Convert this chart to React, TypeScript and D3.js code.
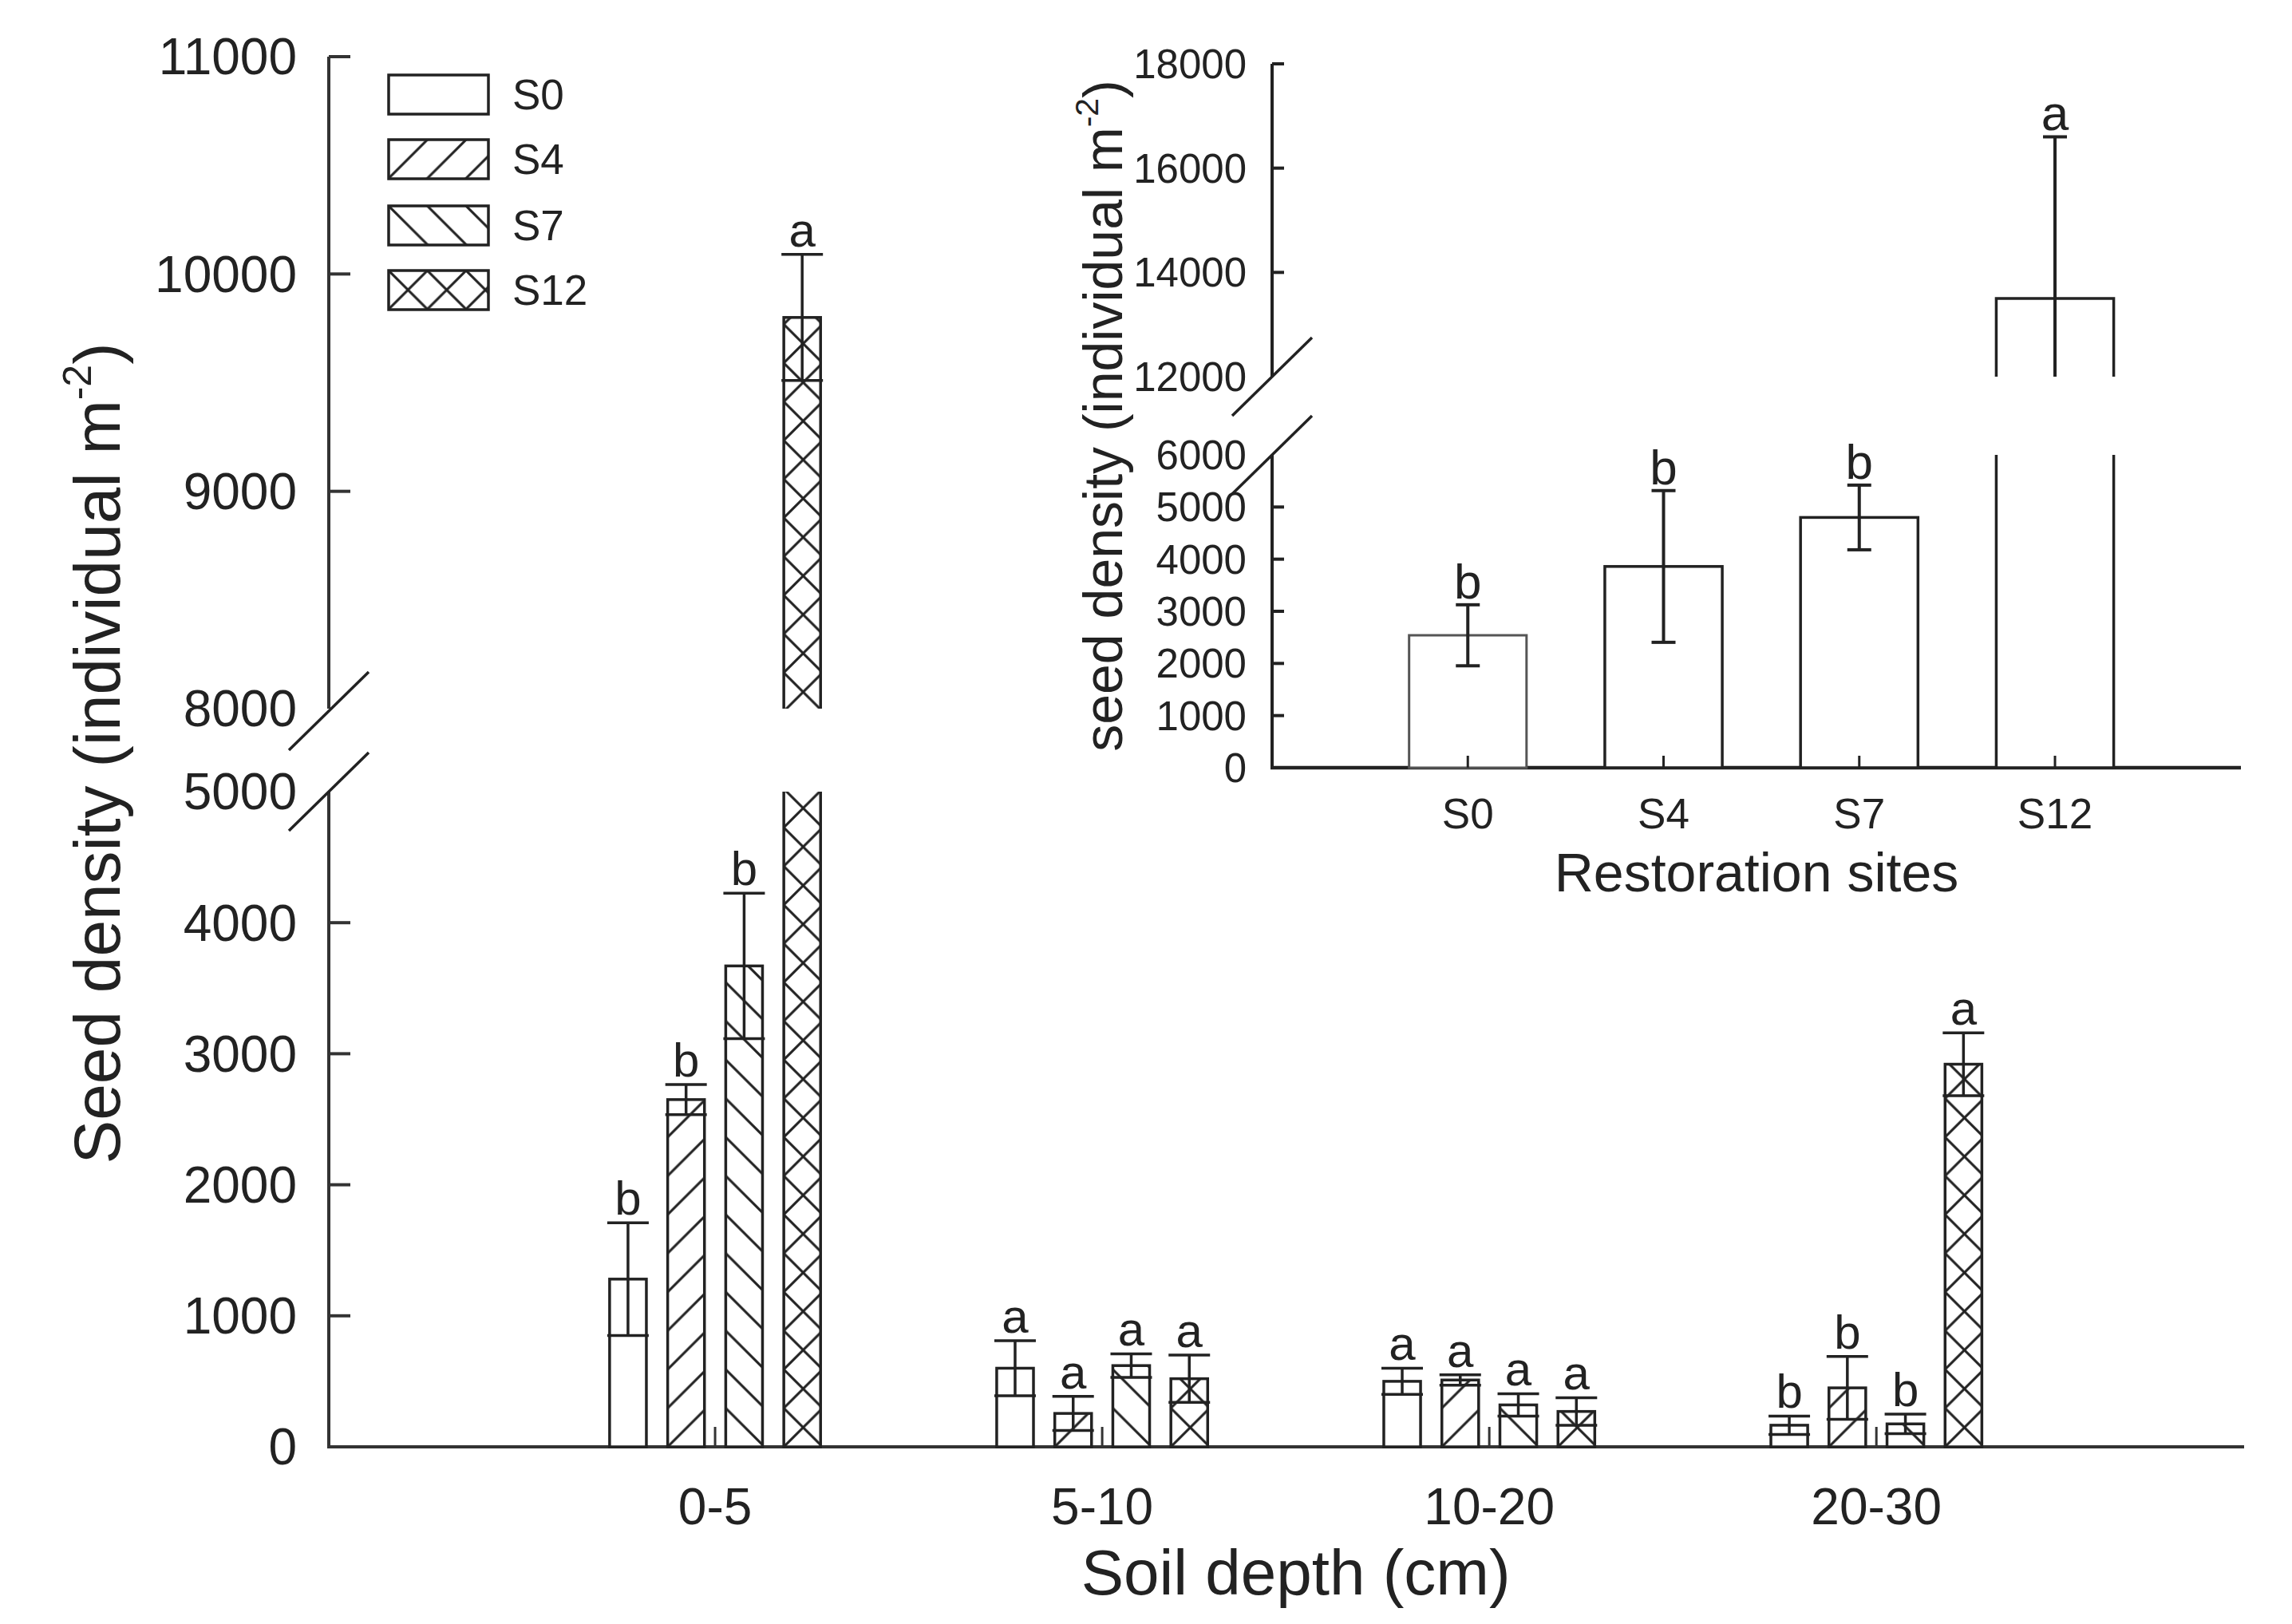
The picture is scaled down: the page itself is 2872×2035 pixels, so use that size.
import React from 'react';
import * as d3 from 'd3';

// ---------- data ----------
const depths = ['0-5', '5-10', '10-20', '20-30'];
const sites = ['S0', 'S4', 'S7', 'S12'];

const s0Mean = [1280, 600, 500, 165];
const s0SE = [430, 210, 100, 70];
const s0Letters = ['b', 'a', 'a', 'b'];

const s4Mean = [2650, 255, 510, 450];
const s4SE = [115, 130, 40, 240];
const s4Letters = ['b', 'a', 'a', 'b'];

const s7Mean = [3670, 620, 320, 175];
const s7SE = [555, 90, 85, 75];
const s7Letters = ['b', 'a', 'a', 'b'];

const s12Mean = [9800, 520, 270, 2920];
const s12SE = [290, 180, 105, 240];
const s12Letters = ['a', 'a', 'a', 'a'];

const insetMean = [2540, 3860, 4800, 13500];
const insetSE = [585, 1455, 620, 3100];
const insetLetters = ['b', 'b', 'b', 'a'];

const mainLowerTicks = [0, 1000, 2000, 3000, 4000, 5000];
const mainUpperTicks = [8000, 9000, 10000, 11000];
const insetLowerTicks = [0, 1000, 2000, 3000, 4000, 5000, 6000];
const insetUpperTicks = [12000, 14000, 16000, 18000];

// ---------- layout ----------
const W = 2872;
const H = 2035;
const FONT = '"Liberation Sans", Arial, Helvetica, sans-serif';
const INK = '#222';

const mainLower = d3.scaleLinear().domain([0, 5000]).range([1813, 992]);
const mainUpper = d3.scaleLinear().domain([8000, 11000]).range([888, 71]);
const mainX = d3.scaleLinear().domain([-1, 3.95]).range([411, 2812]);

const insetLower = d3.scaleLinear().domain([0, 6000]).range([962, 570]);
const insetUpper = d3.scaleLinear().domain([12000, 18000]).range([472, 80]);
const insetX = d3.scaleLinear().domain([-1, 3.95]).range([1594, 2808]);

const mainAxisX = 412;
const insetAxisX = 1594;

const means = [s0Mean, s4Mean, s7Mean, s12Mean];
const ses = [s0SE, s4SE, s7SE, s12SE];
const letters = [s0Letters, s4Letters, s7Letters, s12Letters];

const step = mainX(1) - mainX(0);
const barW = 0.095 * step;
const barOffset = (k: number) => (k - 1.5) * 0.15 * step;
const P = step / 10;

const hatchPath = (type: string, p: number) => {
  const fwd = `M0,${p} L${p},0 M${-p / 2},${p / 2} L${p / 2},${-p / 2} M${p / 2},${(3 * p) / 2} L${(3 * p) / 2},${p / 2}`;
  const back = `M0,0 L${p},${p} M${-p / 2},${p / 2} L${p / 2},${(3 * p) / 2} M${p / 2},${-p / 2} L${(3 * p) / 2},${p / 2}`;
  if (type === 'fwd') return fwd;
  if (type === 'back') return back;
  if (type === 'cross') return fwd + ' ' + back;
  return '';
};
const hatchTypes = ['none', 'fwd', 'back', 'cross'];

function Pattern({ id, type, x, y }: { id: string; type: string; x: number; y: number }) {
  return (
    <pattern id={id} patternUnits="userSpaceOnUse" x={x} y={y} width={P} height={P}>
      <rect width={P} height={P} fill="#fff" />
      <path d={hatchPath(type, P)} stroke={INK} strokeWidth={3} fill="none" />
    </pattern>
  );
}

function pieceY(v: number, lower: any, upper: any, lowMax: number) {
  return v <= lowMax ? lower(v) : upper(v);
}

export default function App() {
  const legendTop = [94, 175, 258, 339];

  const mainBars: React.ReactNode[] = [];
  const mainErr: React.ReactNode[] = [];
  const mainLabels: React.ReactNode[] = [];
  means.forEach((arr, k) => {
    arr.forEach((v, i) => {
      const cx = mainX(i) + barOffset(k);
      const fill = k === 0 ? '#fff' : `url(#pat-${k})`;
      const se = ses[k][i];
      [
        { sc: mainLower, clip: 'url(#mainLowerClip)', tag: 'l' },
        { sc: mainUpper, clip: 'url(#mainUpperClip)', tag: 'u' },
      ].forEach(({ sc, clip, tag }) => {
        const yv = sc(v);
        const y0 = sc(0);
        mainBars.push(
          <rect
            key={`b-${k}-${i}-${tag}`}
            clipPath={clip}
            x={cx - barW / 2}
            y={yv}
            width={barW}
            height={y0 - yv}
            fill={fill}
            stroke={INK}
            strokeWidth={3.5}
          />
        );
        const yt = sc(v + se);
        const yb = sc(v - se);
        mainErr.push(
          <g key={`e-${k}-${i}-${tag}`} clipPath={clip} stroke={INK} strokeWidth={3.5}>
            <line x1={cx} x2={cx} y1={yt} y2={yb} />
            <line x1={cx - 26} x2={cx + 26} y1={yt} y2={yt} />
            <line x1={cx - 26} x2={cx + 26} y1={yb} y2={yb} />
          </g>
        );
      });
      const ly = pieceY(v + se, mainLower, mainUpper, 5000) - 10;
      mainLabels.push(
        <text key={`l-${k}-${i}`} x={cx} y={ly} textAnchor="middle" fontSize={60} fill={INK}>
          {letters[k][i]}
        </text>
      );
    });
  });

  const insetBars: React.ReactNode[] = [];
  const insetErr: React.ReactNode[] = [];
  const insetLabels: React.ReactNode[] = [];
  const iw = 0.6 * (insetX(1) - insetX(0));
  insetMean.forEach((v, i) => {
    const cx = insetX(i);
    const se = insetSE[i];
    [
      { sc: insetLower, clip: 'url(#insetLowerClip)', tag: 'l' },
      { sc: insetUpper, clip: 'url(#insetUpperClip)', tag: 'u' },
    ].forEach(({ sc, clip, tag }) => {
      const yv = sc(v);
      const y0 = sc(0);
      insetBars.push(
        <rect
          key={`ib-${i}-${tag}`}
          clipPath={clip}
          x={cx - iw / 2}
          y={yv}
          width={iw}
          height={y0 - yv}
          fill="#fff"
          stroke={i === 0 ? '#555' : INK}
          strokeWidth={i === 0 ? 3 : 3.5}
        />
      );
      const yt = sc(v + se);
      const yb = sc(v - se);
      insetErr.push(
        <g key={`ie-${i}-${tag}`} clipPath={clip} stroke={INK} strokeWidth={4}>
          <line x1={cx} x2={cx} y1={yt} y2={yb} />
          <line x1={cx - 15} x2={cx + 15} y1={yt} y2={yt} />
          <line x1={cx - 15} x2={cx + 15} y1={yb} y2={yb} />
        </g>
      );
    });
    const ly = pieceY(v + se, insetLower, insetUpper, 6000) - 8;
    insetLabels.push(
      <text key={`il-${i}`} x={cx} y={ly} textAnchor="middle" fontSize={62} fill={INK}>
        {insetLetters[i]}
      </text>
    );
  });

  const slash = (x: number, y: number, key: string) => (
    <line key={key} x1={x - 50} y1={y + 49} x2={x + 50} y2={y - 49} stroke={INK} strokeWidth={3.5} />
  );

  return (
    <svg
      width={W}
      height={H}
      style={{ position: 'absolute', left: 0, top: 0, background: '#fff' }}
      fontFamily={FONT}
    >
      <rect width={W} height={H} fill="#fff" />
      <defs>
        <clipPath id="mainLowerClip">
          <rect x={0} y={mainLower(5000)} width={W} height={H - mainLower(5000)} />
        </clipPath>
        <clipPath id="mainUpperClip">
          <rect x={0} y={0} width={W} height={mainUpper(8000)} />
        </clipPath>
        <clipPath id="insetLowerClip">
          <rect x={0} y={insetLower(6000)} width={W} height={H - insetLower(6000)} />
        </clipPath>
        <clipPath id="insetUpperClip">
          <rect x={0} y={0} width={W} height={insetUpper(12000)} />
        </clipPath>
        {[1, 2, 3].map((k) => (
          <Pattern key={`p${k}`} id={`pat-${k}`} type={hatchTypes[k]} x={mainX(0) + barOffset(k) - barW / 2} y={mainLower(0)} />
        ))}
        {[1, 2, 3].map((k) => (
          <Pattern key={`lp${k}`} id={`leg-${k}`} type={hatchTypes[k]} x={487} y={legendTop[k]} />
        ))}
      </defs>

      {/* ---------------- main chart ---------------- */}
      <g stroke="#333" strokeWidth={4}>
        <line x1={mainAxisX} x2={mainAxisX} y1={mainLower(0)} y2={mainLower(5000)} />
        <line x1={mainAxisX} x2={mainAxisX} y1={mainUpper(8000)} y2={mainUpper(11000)} />
        <line x1={mainAxisX - 2} x2={mainX.range()[1]} y1={mainLower(0)} y2={mainLower(0)} />
        {mainLowerTicks
          .filter((t) => t !== 5000 && t !== 0)
          .map((t) => (
            <line key={`mt${t}`} x1={mainAxisX} x2={mainAxisX + 27} y1={mainLower(t)} y2={mainLower(t)} />
          ))}
        {mainUpperTicks
          .filter((t) => t !== 8000)
          .map((t) => (
            <line key={`mut${t}`} x1={mainAxisX} x2={mainAxisX + 27} y1={mainUpper(t)} y2={mainUpper(t)} />
          ))}
        {depths.map((d, i) => (
          <line key={`xt${d}`} x1={mainX(i)} x2={mainX(i)} y1={mainLower(0)} y2={mainLower(0) - 25} strokeWidth={3} />
        ))}
      </g>
      {slash(mainAxisX, mainUpper(8000) + 3, 's1')}
      {slash(mainAxisX, mainLower(5000), 's2')}
      <g fontSize={64} fill={INK} textAnchor="end">
        {mainLowerTicks.map((t) => (
          <text key={`ml${t}`} x={372} y={mainLower(t)} dy="0.35em">
            {t}
          </text>
        ))}
        {mainUpperTicks.map((t) => (
          <text key={`mul${t}`} x={372} y={mainUpper(t)} dy="0.35em">
            {t}
          </text>
        ))}
      </g>
      <g fontSize={64} fill={INK} textAnchor="middle">
        {depths.map((d, i) => (
          <text key={`xl${d}`} x={mainX(i)} y={1910}>
            {d}
          </text>
        ))}
      </g>
      <text x={(mainX(0) + mainX(3)) / 2} y={1998} textAnchor="middle" fontSize={80} fill={INK}>
        Soil depth (cm)
      </text>
      <text transform="translate(150,944) rotate(-90)" textAnchor="middle" fontSize={82} fill={INK}>
        Seed density (individual m
        <tspan dy={-36} fontSize={50}>
          -2
        </tspan>
        <tspan dy={36}>)</tspan>
      </text>

      {mainBars}
      {mainErr}
      {mainLabels}

      {/* legend */}
      {sites.map((s, k) => (
        <g key={`lg${s}`}>
          <rect
            x={487}
            y={legendTop[k]}
            width={125}
            height={49}
            fill={k === 0 ? '#fff' : `url(#leg-${k})`}
            stroke={INK}
            strokeWidth={3.5}
          />
          <text x={642} y={legendTop[k] + 43} fontSize={53} fill={INK}>
            {s}
          </text>
        </g>
      ))}

      {/* ---------------- inset chart ---------------- */}
      <g stroke={INK} strokeWidth={4}>
        <line x1={insetAxisX} x2={insetAxisX} y1={insetLower(0)} y2={insetLower(6000)} />
        <line x1={insetAxisX} x2={insetAxisX} y1={insetUpper(12000)} y2={insetUpper(18000)} />
        <line x1={insetAxisX - 2} x2={insetX.range()[1]} y1={insetLower(0)} y2={insetLower(0)} strokeWidth={4.5} />
        {insetLowerTicks
          .filter((t) => t !== 6000 && t !== 0)
          .map((t) => (
            <line key={`it${t}`} x1={insetAxisX} x2={insetAxisX + 15} y1={insetLower(t)} y2={insetLower(t)} />
          ))}
        {insetUpperTicks
          .filter((t) => t !== 12000)
          .map((t) => (
            <line key={`iut${t}`} x1={insetAxisX} x2={insetAxisX + 15} y1={insetUpper(t)} y2={insetUpper(t)} />
          ))}
      </g>
      {slash(insetAxisX, insetUpper(12000), 's3')}
      {slash(insetAxisX, insetLower(6000), 's4')}
      <g fontSize={51} fill={INK} textAnchor="end">
        {insetLowerTicks.map((t) => (
          <text key={`il${t}`} x={1562} y={insetLower(t)} dy="0.35em">
            {t}
          </text>
        ))}
        {insetUpperTicks.map((t) => (
          <text key={`iul${t}`} x={1562} y={insetUpper(t)} dy="0.35em">
            {t}
          </text>
        ))}
      </g>
      <g fontSize={53} fill={INK} textAnchor="middle">
        {sites.map((s, i) => (
          <text key={`ixl${s}`} x={insetX(i)} y={1038}>
            {s}
          </text>
        ))}
      </g>
      <text x={(insetX.range()[0] + insetX.range()[1]) / 2} y={1117} textAnchor="middle" fontSize={68} fill={INK}>
        Restoration sites
      </text>
      <text transform="translate(1406,521) rotate(-90)" textAnchor="middle" fontSize={68} fill={INK}>
        seed density (individual m
        <tspan dy={-30} fontSize={41}>
          -2
        </tspan>
        <tspan dy={30}>)</tspan>
      </text>

      {insetBars}
      <g stroke={INK} strokeWidth={3}>
        {sites.map((s, i) => (
          <line key={`ixt${s}`} x1={insetX(i)} x2={insetX(i)} y1={insetLower(0)} y2={insetLower(0) - 15} />
        ))}
      </g>
      {insetErr}
      {insetLabels}
    </svg>
  );
}
